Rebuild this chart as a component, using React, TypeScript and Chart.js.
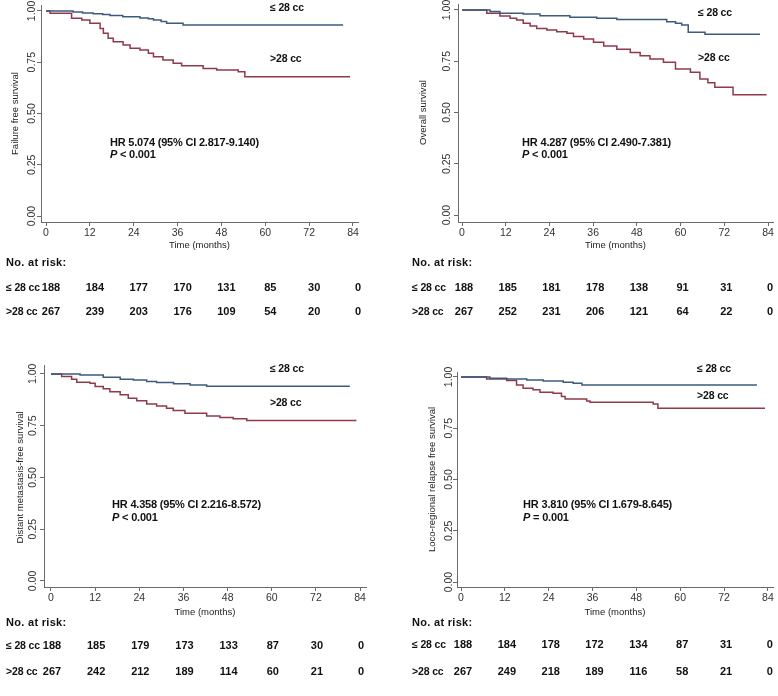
import React, { useEffect, useRef } from "react";
import { Chart, registerables } from "chart.js";

Chart.register(...registerables);

// ---------- shared axis / label data ----------
const timeTicks = [0, 12, 24, 36, 48, 60, 72, 84];
const survivalTicks = [0, 0.25, 0.5, 0.75, 1];
const groupLabels = ["≤ 28 cc", ">28 cc"];
const xAxisTitle = "Time (months)";
const riskHeader = "No. at risk:";

// ---------- Panel A: failure free survival ----------
const ffsLowT = [0, 7.4, 10, 12.9, 15.5, 17.5, 21, 25.7, 28, 29.4, 31.5, 33, 37.5, 81.3];
const ffsLowS = [1, 0.995, 0.99, 0.986, 0.983, 0.978, 0.972, 0.966, 0.962, 0.956, 0.948, 0.94, 0.932, 0.932];
const ffsHighT = [0, 1.1, 7, 9.8, 12, 14.8, 15.7, 17, 18.4, 21.1, 23, 25.7, 28, 29.4, 32, 34.8, 37.1, 43, 46.7, 52.6, 54.4, 83.2];
const ffsHighS = [1, 0.989, 0.964, 0.956, 0.94, 0.915, 0.891, 0.867, 0.85, 0.834, 0.818, 0.81, 0.794, 0.777, 0.761, 0.745, 0.733, 0.72, 0.712, 0.704, 0.679, 0.679];
const ffsRiskLow = [188, 184, 177, 170, 131, 85, 30, 0];
const ffsRiskHigh = [267, 239, 203, 176, 109, 54, 20, 0];

// ---------- Panel B: overall survival ----------
const osLowT = [0, 7.7, 10.4, 16.8, 21.4, 29.6, 37, 42.5, 56.2, 58.6, 60.3, 62.1, 66.7, 81.8];
const osLowS = [1, 0.992, 0.984, 0.98, 0.972, 0.964, 0.959, 0.954, 0.943, 0.935, 0.927, 0.891, 0.882, 0.882];
const osHighT = [0, 6.8, 10.4, 13.2, 15, 16.8, 18.7, 20.5, 23.3, 26, 28.8, 30.6, 33.4, 36.1, 38.9, 42.5, 46.2, 48.9, 51.6, 55.3, 58.6, 62.7, 65.3, 67.5, 69.4, 74.4, 83.6];
const osHighS = [1, 0.984, 0.97, 0.96, 0.951, 0.935, 0.922, 0.91, 0.902, 0.894, 0.886, 0.87, 0.858, 0.842, 0.824, 0.808, 0.793, 0.777, 0.761, 0.745, 0.712, 0.696, 0.663, 0.645, 0.623, 0.587, 0.587];
const osRiskLow = [188, 185, 181, 178, 138, 91, 31, 0];
const osRiskHigh = [267, 252, 231, 206, 121, 64, 22, 0];

// ---------- Panel C: distant metastasis-free survival ----------
const dmLowT = [0, 7.9, 14.2, 18.8, 22.4, 26, 28.7, 33.3, 37.8, 42.3, 81.2];
const dmLowS = [1, 0.995, 0.984, 0.974, 0.97, 0.963, 0.958, 0.952, 0.947, 0.94, 0.94];
const dmHighT = [0, 2.9, 5.6, 7, 10.6, 12, 14.2, 16, 18.8, 21, 23.3, 26, 28.7, 31.4, 33.2, 36.4, 42.3, 45.9, 49.5, 53.2, 83];
const dmHighS = [1, 0.987, 0.974, 0.96, 0.955, 0.939, 0.928, 0.914, 0.899, 0.883, 0.87, 0.855, 0.845, 0.834, 0.823, 0.81, 0.797, 0.79, 0.783, 0.775, 0.775];
const dmRiskLow = [188, 185, 179, 173, 133, 87, 30, 0];
const dmRiskHigh = [267, 242, 212, 189, 114, 60, 21, 0];

// ---------- Panel D: loco-regional relapse free survival ----------
const lrLowT = [0, 7.9, 12.5, 18, 22.5, 28, 30.7, 33.1, 81];
const lrLowS = [1, 0.994, 0.99, 0.985, 0.98, 0.974, 0.969, 0.961, 0.961];
const lrHighT = [0, 7, 12.5, 15.2, 17, 19.7, 21.6, 25.2, 27.5, 28.5, 34.4, 35.3, 52.6, 53.9, 83.2];
const lrHighS = [1, 0.99, 0.982, 0.961, 0.945, 0.937, 0.925, 0.92, 0.904, 0.893, 0.883, 0.876, 0.868, 0.847, 0.847];
const lrRiskLow = [188, 184, 178, 172, 134, 87, 31, 0];
const lrRiskHigh = [267, 249, 218, 189, 116, 58, 21, 0];

// ---------- styles ----------
const BLUE = "#3d5a7e";
const RED = "#8f3a4b";
const AXIS = "#6b6b6b";
const TXT = "#111";
const TICKTXT = "#333";
const FONT = "'Liberation Sans', Arial, Helvetica, sans-serif";

type Geom = {
  x: number; y: number; w: number; h: number;
  l: number; r: number; t: number; b: number;
  xMin: number; xMax: number; yMin: number; yMax: number;
  yLabelOff: number; yTitleOff: number; xTitleOff: number;
  rowLabelX: number; riskOff: number[]; riskShift: number;
};

type PanelCfg = {
  geom: Geom;
  yTitle: string;
  lowT: number[]; lowS: number[]; highT: number[]; highS: number[];
  riskLow: number[]; riskHigh: number[];
  hr: string; p: string;
  lowLabelAt: [number, number]; highLabelAt: [number, number]; hrAt: [number, number]; pAt: [number, number];
};

const panels: PanelCfg[] = [
  {
    geom: { x: 0, y: 0, w: 389, h: 335, l: 41, r: 358, t: 5, b: 222, xMin: -1.37, xMax: 85.37, yMin: -0.029, yMax: 1.029,
      yLabelOff: 9, yTitleOff: 26, xTitleOff: 23, rowLabelX: 6, riskOff: [41, 66, 90], riskShift: 5 },
    yTitle: "Failure free survival",
    lowT: ffsLowT, lowS: ffsLowS, highT: ffsHighT, highS: ffsHighS,
    riskLow: ffsRiskLow, riskHigh: ffsRiskHigh,
    hr: "HR 5.074 (95% CI 2.817-9.140)", p: " < 0.001",
    lowLabelAt: [61.3, 1.015], highLabelAt: [61.3, 0.766], hrAt: [17.5, 0.356], pAt: [17.5, 0.298],
  },
  {
    geom: { x: 389, y: 0, w: 389, h: 335, l: 69, r: 384, t: 4, b: 222, xMin: -1.1, xMax: 85.37, yMin: -0.034, yMax: 1.029,
      yLabelOff: 11, yTitleOff: 35, xTitleOff: 23, rowLabelX: 23, riskOff: [41, 66, 90], riskShift: 2 },
    yTitle: "Overall survival",
    lowT: osLowT, lowS: osLowS, highT: osHighT, highS: osHighS,
    riskLow: osRiskLow, riskHigh: osRiskHigh,
    hr: "HR 4.287 (95% CI 2.490-7.381)", p: " < 0.001",
    lowLabelAt: [64.8, 0.985], highLabelAt: [64.8, 0.766], hrAt: [16.5, 0.351], pAt: [16.5, 0.293],
  },
  {
    geom: { x: 0, y: 335, w: 389, h: 361, l: 44, r: 366, t: 30, b: 252, xMin: -1.9, xMax: 85.6, yMin: -0.029, yMax: 1.043,
      yLabelOff: 11, yTitleOff: 24, xTitleOff: 25, rowLabelX: 6, riskOff: [36, 59, 85], riskShift: 1 },
    yTitle: "Distant metastasis-free survival",
    lowT: dmLowT, lowS: dmLowS, highT: dmHighT, highS: dmHighS,
    riskLow: dmRiskLow, riskHigh: dmRiskHigh,
    hr: "HR 4.358 (95% CI 2.216-8.572)", p: " < 0.001",
    lowLabelAt: [59.5, 1.024], highLabelAt: [59.5, 0.86], hrAt: [16.6, 0.367], pAt: [16.6, 0.304],
  },
  {
    geom: { x: 389, y: 335, w: 389, h: 361, l: 68, r: 384, t: 37, b: 252, xMin: -1.1, xMax: 85.4, yMin: -0.024, yMax: 1.024,
      yLabelOff: 8, yTitleOff: 25, xTitleOff: 25, rowLabelX: 23, riskOff: [36, 58, 85], riskShift: 2 },
    yTitle: "Loco-regional relapse free survival",
    lowT: lrLowT, lowS: lrLowS, highT: lrHighT, highS: lrHighS,
    riskLow: lrRiskLow, riskHigh: lrRiskHigh,
    hr: "HR 3.810 (95% CI 1.679-8.645)", p: " = 0.001",
    lowLabelAt: [64.6, 1.039], highLabelAt: [64.6, 0.907], hrAt: [17, 0.376], pAt: [17, 0.312],
  },
];

function KMPanel({ cfg }: { cfg: PanelCfg }) {
  const ref = useRef<HTMLCanvasElement | null>(null);
  const g = cfg.geom;

  useEffect(() => {
    const canvas = ref.current;
    if (!canvas) return;
    const yW = 20;
    const xH = 20;

    const overlay = {
      id: "kmOverlay",
      afterDraw(chart: any) {
        const ctx: any = chart.ctx;
        const a = chart.chartArea;
        const xs = chart.scales.x;
        const ys = chart.scales.y;
        ctx.save();

        // y tick labels (rotated)
        ctx.font = `10.5px ${FONT}`;
        ctx.fillStyle = TICKTXT;
        ctx.textAlign = "center";
        ctx.textBaseline = "middle";
        survivalTicks.forEach((v) => {
          const py = ys.getPixelForValue(v);
          ctx.save();
          ctx.translate(a.left - g.yLabelOff, py);
          ctx.rotate(-Math.PI / 2);
          ctx.fillText(v.toFixed(2), 0, 0);
          ctx.restore();
        });

        // y title
        ctx.font = `9.5px ${FONT}`;
        ctx.fillStyle = "#222";
        const yMid = (ys.getPixelForValue(0) + ys.getPixelForValue(1)) / 2;
        ctx.save();
        ctx.translate(a.left - g.yTitleOff, yMid);
        ctx.rotate(-Math.PI / 2);
        ctx.fillText(cfg.yTitle, 0, 0);
        ctx.restore();

        // x title
        ctx.fillText(xAxisTitle, (a.left + a.right) / 2, a.bottom + g.xTitleOff);

        // group labels and HR text
        ctx.fillStyle = TXT;
        ctx.textAlign = "left";
        ctx.font = `bold 10.5px ${FONT}`;
        ctx.letterSpacing = "-0.15px";
        ctx.fillText(groupLabels[0], xs.getPixelForValue(cfg.lowLabelAt[0]), ys.getPixelForValue(cfg.lowLabelAt[1]));
        ctx.fillText(groupLabels[1], xs.getPixelForValue(cfg.highLabelAt[0]), ys.getPixelForValue(cfg.highLabelAt[1]));
        ctx.font = `bold 11px ${FONT}`;
        ctx.letterSpacing = "-0.2px";
        ctx.fillText(cfg.hr, xs.getPixelForValue(cfg.hrAt[0]), ys.getPixelForValue(cfg.hrAt[1]));
        const px = xs.getPixelForValue(cfg.pAt[0]);
        const py = ys.getPixelForValue(cfg.pAt[1]);
        ctx.font = `italic bold 11px ${FONT}`;
        ctx.fillText("P", px, py);
        const pw = ctx.measureText("P").width;
        ctx.font = `bold 11px ${FONT}`;
        ctx.fillText(cfg.p, px + pw, py);

        // risk table
        ctx.font = `bold 11px ${FONT}`;
        ctx.letterSpacing = "0.3px";
        ctx.fillText(riskHeader, g.rowLabelX, a.bottom + g.riskOff[0]);
        ctx.font = `bold 10.5px ${FONT}`;
        ctx.letterSpacing = "-0.15px";
        ctx.fillText(groupLabels[0], g.rowLabelX, a.bottom + g.riskOff[1]);
        ctx.fillText(groupLabels[1], g.rowLabelX, a.bottom + g.riskOff[2]);
        ctx.textAlign = "center";
        ctx.font = `bold 11px ${FONT}`;
        ctx.letterSpacing = "0px";
        timeTicks.forEach((t, i) => {
          const tx = xs.getPixelForValue(t) + g.riskShift;
          ctx.fillText(String(cfg.riskLow[i]), tx, a.bottom + g.riskOff[1]);
          ctx.fillText(String(cfg.riskHigh[i]), tx, a.bottom + g.riskOff[2]);
        });
        ctx.restore();
      },
    };

    const axisCommon = {
      grid: { display: true, drawOnChartArea: false, drawTicks: true, tickLength: 4, color: AXIS, lineWidth: 1 },
      border: { display: true, color: AXIS, width: 1 },
    };

    const chart = new Chart(canvas, {
      type: "line",
      data: {
        datasets: [
          {
            data: cfg.lowT.map((t, i) => ({ x: t, y: cfg.lowS[i] })),
            borderColor: BLUE,
            borderWidth: 1.5,
            pointRadius: 0,
            stepped: "before",
            fill: false,
          },
          {
            data: cfg.highT.map((t, i) => ({ x: t, y: cfg.highS[i] })),
            borderColor: RED,
            borderWidth: 1.5,
            pointRadius: 0,
            stepped: "before",
            fill: false,
          },
        ],
      },
      options: {
        responsive: false,
        animation: false,
        events: [],
        layout: { padding: { left: g.l - yW, right: g.w - g.r, top: g.t, bottom: g.h - g.b - xH } },
        plugins: { legend: { display: false }, tooltip: { enabled: false }, title: { display: false } },
        scales: {
          x: {
            type: "linear",
            min: g.xMin,
            max: g.xMax,
            afterBuildTicks: (s: any) => { s.ticks = timeTicks.map((v) => ({ value: v })); },
            afterFit: (s: any) => { s.height = xH; },
            ...axisCommon,
            ticks: { font: { family: FONT, size: 10.5 }, color: TICKTXT, padding: 1, maxRotation: 0, minRotation: 0, autoSkip: false, callback: (v: any) => String(v) },
          },
          y: {
            type: "linear",
            min: g.yMin,
            max: g.yMax,
            afterBuildTicks: (s: any) => { s.ticks = survivalTicks.map((v) => ({ value: v })); },
            afterFit: (s: any) => { s.width = yW; },
            ...axisCommon,
            ticks: { display: false },
          },
        },
      } as any,
      plugins: [overlay],
    });
    return () => chart.destroy();
  }, []);

  return (
    <canvas
      ref={ref}
      width={g.w}
      height={g.h}
      style={{ position: "absolute", left: g.x, top: g.y, width: g.w, height: g.h, display: "block" }}
    />
  );
}

export default function App() {
  return (
    <div style={{ position: "absolute", left: 0, top: 0, width: 778, height: 696, background: "#fff" }}>
      {panels.map((p, i) => (
        <KMPanel key={i} cfg={p} />
      ))}
    </div>
  );
}
